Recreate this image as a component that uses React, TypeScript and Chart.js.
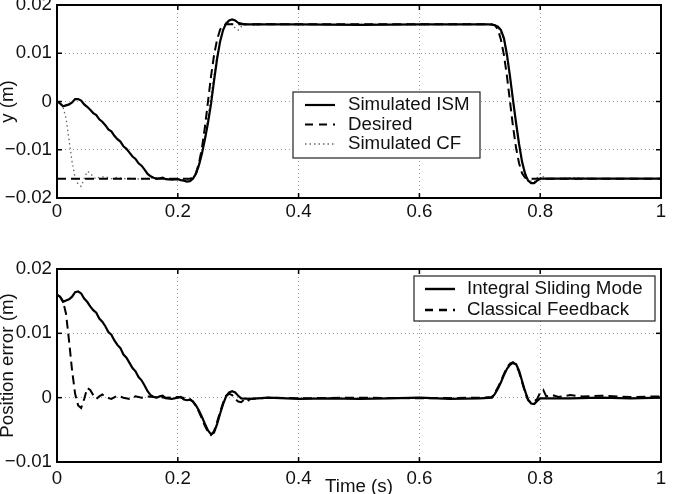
import React, { useEffect, useRef } from "react";
import { Chart, registerables } from "chart.js";
Chart.register(...registerables);

const FONT = "'Liberation Sans', Arial, Helvetica, sans-serif";
const FS = 18.7;

// ---------- Top plot: y (m) ----------
const desiredT = [0, 0.22, 0.225, 0.23, 0.235, 0.24, 0.245, 0.25, 0.255, 0.26, 0.265, 0.27, 0.275, 0.28,
  0.72, 0.725, 0.73, 0.735, 0.74, 0.745, 0.75, 0.755, 0.76, 0.765, 0.77, 0.775, 0.78, 1];
const desiredY = [-0.016, -0.016, -0.0158, -0.0149, -0.0128, -0.0096, -0.0052, 0, 0.0052, 0.0096, 0.0128, 0.0149, 0.0158, 0.016,
  0.016, 0.0158, 0.0149, 0.0128, 0.0096, 0.0052, 0, -0.0052, -0.0096, -0.0128, -0.0149, -0.0158, -0.016, -0.016];

const ismTopT = [0, 0.005, 0.01, 0.015, 0.02, 0.025, 0.03, 0.035, 0.04, 0.045, 0.05, 0.055, 0.06, 0.065, 0.07, 0.075,
  0.08, 0.085, 0.09, 0.095, 0.1, 0.105, 0.11, 0.115, 0.12, 0.125, 0.13, 0.135, 0.14, 0.145, 0.15, 0.155, 0.16, 0.165,
  0.17, 0.175, 0.18, 0.19, 0.2, 0.205, 0.21, 0.215, 0.22, 0.225, 0.23, 0.235, 0.24, 0.245, 0.25, 0.255, 0.26, 0.265,
  0.27, 0.275, 0.28, 0.285, 0.29, 0.295, 0.3, 0.31, 0.4, 0.5, 0.6, 0.7, 0.715, 0.72, 0.725, 0.73, 0.735, 0.74, 0.745,
  0.75, 0.755, 0.76, 0.765, 0.77, 0.775, 0.78, 0.785, 0.79, 0.795, 0.8, 1];
const ismTopY = [0, -0.0004, -0.001, -0.0008, -0.0006, -0.0002, 0.0005, 0.0005, 0.0002, -0.0006, -0.0011, -0.0017, -0.0024,
  -0.0028, -0.0037, -0.0042, -0.0049, -0.0058, -0.0062, -0.0071, -0.0078, -0.0083, -0.0093, -0.0098, -0.0106, -0.0114,
  -0.0119, -0.0128, -0.0133, -0.0141, -0.015, -0.0155, -0.0158, -0.016, -0.0159, -0.0158, -0.0161, -0.0162, -0.0161,
  -0.0163, -0.0164, -0.0166, -0.0165, -0.016, -0.015, -0.0132, -0.0108, -0.0078, -0.0044, -0.0005, 0.0043, 0.0088,
  0.0124, 0.0148, 0.0162, 0.0168, 0.017, 0.0168, 0.0163, 0.016, 0.016, 0.0159, 0.016, 0.016, 0.016, 0.0159, 0.0158,
  0.0155, 0.0148, 0.0131, 0.0097, 0.0052, 0.0003, -0.0044, -0.0088, -0.0125, -0.015, -0.0164, -0.0169, -0.0169,
  -0.0164, -0.016, -0.016];

const cfTopT = [0, 0.005, 0.01, 0.015, 0.02, 0.025, 0.03, 0.035, 0.04, 0.045, 0.05, 0.055, 0.06, 0.065, 0.07, 0.08,
  0.09, 0.1, 0.11, 0.12, 0.14, 0.16, 0.18, 0.2, 0.22, 0.225, 0.23, 0.235, 0.24, 0.245, 0.25, 0.255, 0.26, 0.265, 0.27,
  0.275, 0.28, 0.285, 0.29, 0.295, 0.3, 0.305, 0.31, 0.33, 0.35, 0.4, 0.5, 0.6, 0.7, 0.72, 0.73, 0.74, 0.75, 0.76,
  0.77, 0.78, 0.79, 0.795, 0.8, 0.805, 0.81, 0.85, 0.9, 1];
const cfTopY = [0, -0.0003, -0.0012, -0.0035, -0.008, -0.0125, -0.0158, -0.0172, -0.0176, -0.016, -0.0145, -0.0148,
  -0.0156, -0.0161, -0.0157, -0.0156, -0.016, -0.0157, -0.016, -0.0159, -0.0161, -0.0158, -0.016, -0.0161, -0.0162,
  -0.016, -0.0152, -0.0134, -0.0106, -0.007, -0.003, 0.0012, 0.0055, 0.0094, 0.0126, 0.0148, 0.016, 0.0164, 0.016,
  0.0152, 0.0148, 0.0155, 0.0161, 0.0158, 0.0161, 0.0159, 0.016, 0.0159, 0.016, 0.016, 0.0155, 0.0128, 0.005,
  -0.0046, -0.0128, -0.0163, -0.0167, -0.0158, -0.015, -0.0156, -0.0161, -0.0158, -0.016, -0.016];

// ---------- Bottom plot: position error (m) ----------
const ismErrT = [0, 0.005, 0.01, 0.015, 0.02, 0.025, 0.03, 0.035, 0.04, 0.045, 0.05, 0.055, 0.06, 0.065, 0.07, 0.075,
  0.08, 0.085, 0.09, 0.095, 0.1, 0.105, 0.11, 0.115, 0.12, 0.125, 0.13, 0.135, 0.14, 0.145, 0.15, 0.155, 0.16, 0.165,
  0.17, 0.175, 0.18, 0.19, 0.2, 0.205, 0.21, 0.215, 0.22, 0.225, 0.23, 0.235, 0.24, 0.245, 0.25, 0.255, 0.26, 0.265,
  0.27, 0.275, 0.28, 0.285, 0.29, 0.295, 0.3, 0.305, 0.32, 0.35, 0.4, 0.45, 0.5, 0.55, 0.6, 0.65, 0.7, 0.72, 0.725,
  0.73, 0.735, 0.74, 0.745, 0.75, 0.755, 0.76, 0.765, 0.77, 0.775, 0.78, 0.785, 0.79, 0.795, 0.8, 0.85, 0.9, 0.95, 1];
const ismErrY = [0.016, 0.0157, 0.0149, 0.0151, 0.0153, 0.0157, 0.0164, 0.0165, 0.0162, 0.0154, 0.0149, 0.0142, 0.0136,
  0.0132, 0.0123, 0.0118, 0.0111, 0.0102, 0.0098, 0.0089, 0.0082, 0.0077, 0.0067, 0.0062, 0.0054, 0.0046, 0.0041,
  0.0032, 0.0027, 0.0019, 0.001, 0.0004, 0.0001, 0, 0.0002, 0.0003, -0.0001, -0.0002, 0, 0.0001, -0.0003, -0.0004,
  -0.0003, -0.0006, -0.0012, -0.002, -0.003, -0.0041, -0.0051, -0.0057, -0.0054, -0.0041, -0.0025, -0.001, 0.0002,
  0.0008, 0.001, 0.0008, 0.0003, -0.0001, -0.0002, 0, -0.0002, -0.0001, -0.0002, -0.0001, 0, -0.0002, -0.0001, 0,
  0.0006, 0.0014, 0.0024, 0.0035, 0.0045, 0.0051, 0.0054, 0.0052, 0.0042, 0.0026, 0.001, -0.0003, -0.0009, -0.001,
  -0.0005, -0.0001, -0.0001, 0, -0.0001, 0];

const cfErrT = [0, 0.005, 0.01, 0.015, 0.02, 0.025, 0.03, 0.035, 0.04, 0.045, 0.05, 0.055, 0.06, 0.065, 0.07, 0.075,
  0.08, 0.09, 0.1, 0.11, 0.12, 0.13, 0.14, 0.15, 0.16, 0.18, 0.2, 0.22, 0.225, 0.23, 0.235, 0.24, 0.245, 0.25, 0.255,
  0.26, 0.265, 0.27, 0.275, 0.28, 0.285, 0.29, 0.295, 0.3, 0.305, 0.31, 0.315, 0.32, 0.35, 0.4, 0.5, 0.6, 0.7, 0.72,
  0.725, 0.73, 0.735, 0.74, 0.745, 0.75, 0.755, 0.76, 0.765, 0.77, 0.775, 0.78, 0.785, 0.79, 0.795, 0.8, 0.805, 0.81,
  0.82, 0.83, 0.85, 0.87, 0.9, 0.95, 1];
const cfErrY = [0.016, 0.0157, 0.015, 0.013, 0.0088, 0.0042, 0.0006, -0.0012, -0.0016, -0.0002, 0.0015, 0.0012, 0.0004,
  -0.0002, 0.0002, 0.0005, 0.0001, -0.0002, 0.0003, 0, -0.0002, 0.0002, 0, 0.0002, 0.0001, 0, 0.0001, -0.0002, -0.0006,
  -0.0013, -0.0022, -0.0033, -0.0044, -0.0053, -0.0058, -0.0052, -0.0038, -0.0022, -0.0008, 0.0003, 0.0006, 0.0004,
  -0.0002, -0.0006, -0.0007, -0.0003, -0.0006, -0.0002, 0, -0.0001, 0, -0.0001, 0, 0.0001, 0.0008, 0.0016, 0.0026,
  0.0037, 0.0047, 0.0053, 0.0055, 0.005, 0.004, 0.0024, 0.0008, -0.0004, -0.0008, -0.0006, -0.0002, 0.0008, 0.0012,
  0.0002, 0.0004, 0.0001, 0.0004, 0.0002, 0.0003, 0.0001, 0.0002];

// ---------- axis ticks ----------
const xTickStep = 0.2;
const topYRange = [-0.02, 0.02];
const botYRange = [-0.01, 0.02];
const yTickStep = 0.01;

const pts = (t: number[], y: number[]) => t.map((x, i) => ({ x, y: y[i] }));

const fmtY = (v: number) => {
  const r = Math.round(v * 1000) / 1000;
  if (r === 0) return "0";
  return (r < 0 ? "\u2212" : "") + Math.abs(r).toString();
};
const fmtX = (v: number) => (Math.round(v * 10) / 10).toString();

const framePlugin = {
  id: "frame",
  afterDatasetsDraw(chart: any) {
    const { ctx, chartArea: a, scales } = chart;
    ctx.save();
    ctx.setLineDash([]);
    ctx.strokeStyle = "#000";
    ctx.lineWidth = 1.5;
    const tl = 5;
    const line = (x0: number, y0: number, x1: number, y1: number) => {
      ctx.beginPath();
      ctx.moveTo(x0, y0);
      ctx.lineTo(x1, y1);
      ctx.stroke();
    };
    scales.x.ticks.forEach((t: any) => {
      const px = scales.x.getPixelForValue(t.value);
      line(px, a.bottom, px, a.bottom - tl);
      line(px, a.top, px, a.top + tl);
    });
    scales.y.ticks.forEach((t: any) => {
      const py = scales.y.getPixelForValue(t.value);
      line(a.left, py, a.left + tl, py);
      line(a.right, py, a.right - tl, py);
    });
    ctx.lineWidth = 2;
    ctx.strokeRect(a.left, a.top, a.right - a.left, a.bottom - a.top);
    ctx.restore();
  },
};

type LegItem = { label: string; dash: number[]; color: string; width: number };
const makeLegend = (box: { x: number; y: number; w: number; h: number }, rows: number[], lx0: number, lx1: number, tx: number, items: LegItem[]) => ({
  id: "boxLegend",
  afterDraw(chart: any) {
    const ctx = chart.ctx;
    ctx.save();
    ctx.fillStyle = "#fff";
    ctx.fillRect(box.x, box.y, box.w, box.h);
    ctx.strokeStyle = "#222";
    ctx.lineWidth = 1.2;
    ctx.setLineDash([]);
    ctx.strokeRect(box.x, box.y, box.w, box.h);
    items.forEach((it, i) => {
      const cy = rows[i];
      ctx.beginPath();
      ctx.setLineDash(it.dash);
      ctx.strokeStyle = it.color;
      ctx.lineWidth = it.width;
      ctx.moveTo(lx0, cy);
      ctx.lineTo(lx1, cy);
      ctx.stroke();
      ctx.setLineDash([]);
      ctx.fillStyle = "#111";
      ctx.font = `${FS}px ${FONT}`;
      ctx.textBaseline = "middle";
      ctx.textAlign = "left";
      ctx.fillText(it.label, tx, cy);
    });
    ctx.restore();
  },
});

const makeScales = (yr: number[], yTitle: string, xTitle: string | null, xPad: number, xH: number, yTitlePad: number, xTitlePad: number) => ({
  x: {
    type: "linear",
    min: 0,
    max: 1,
    ticks: { stepSize: xTickStep, callback: (v: any) => fmtX(Number(v)), color: "#111", font: { family: FONT, size: FS }, padding: xPad, maxRotation: 0, autoSkip: false },
    grid: { color: "#9a9a9a", lineWidth: 1, drawTicks: false },
    border: { display: false, dash: [1, 3] },
    title: xTitle
      ? { display: true, text: xTitle, color: "#111", font: { family: FONT, size: FS }, padding: { top: 0, bottom: xTitlePad } }
      : { display: false },
    afterFit: (s: any) => {
      s.height = xH;
      s.paddingLeft = 0;
      s.paddingRight = 0;
    },
  },
  y: {
    type: "linear",
    min: yr[0],
    max: yr[1],
    ticks: { stepSize: yTickStep, callback: (v: any) => fmtY(Number(v)), color: "#111", font: { family: FONT, size: FS }, padding: 5 },
    grid: { color: "#9a9a9a", lineWidth: 1, drawTicks: false },
    border: { display: false, dash: [1, 3] },
    title: { display: true, text: yTitle, color: "#111", font: { family: FONT, size: FS }, padding: { top: yTitlePad, bottom: 0 } },
    afterFit: (s: any) => {
      s.width = 57;
      s.paddingTop = 0;
      s.paddingBottom = 0;
    },
  },
});

const baseOpts = {
  responsive: false,
  animation: false,
  events: [],
  elements: { point: { radius: 0 }, line: { tension: 0 } },
};

export default function App() {
  const topRef = useRef<HTMLCanvasElement>(null);
  const botRef = useRef<HTMLCanvasElement>(null);

  useEffect(() => {
    const c1 = new Chart(topRef.current as HTMLCanvasElement, {
      type: "line",
      data: {
        datasets: [
          { label: "Simulated ISM", data: pts(ismTopT, ismTopY), borderColor: "#000", borderWidth: 2.2, fill: false },
          { label: "Desired", data: pts(desiredT, desiredY), borderColor: "#000", borderWidth: 2, borderDash: [9, 5], fill: false },
          { label: "Simulated CF", data: pts(cfTopT, cfTopY), borderColor: "#666", borderWidth: 1.3, borderDash: [1.5, 3], fill: false },
        ],
      },
      options: {
        ...baseOpts,
        layout: { padding: { left: 0, right: 14, top: 5, bottom: 0 } },
        plugins: { legend: { display: false }, tooltip: { enabled: false } },
        scales: makeScales(topYRange, "y (m)", null, 3, 32, -3, 0) as any,
      } as any,
      plugins: [
        framePlugin,
        makeLegend({ x: 293, y: 92, w: 187, h: 66 }, [105, 124.5, 144], 305, 335, 348, [
          { label: "Simulated ISM", dash: [], color: "#000", width: 2.2 },
          { label: "Desired", dash: [8, 6], color: "#000", width: 2.2 },
          { label: "Simulated CF", dash: [1.5, 3], color: "#666", width: 1.3 },
        ]),
      ] as any,
    });

    const c2 = new Chart(botRef.current as HTMLCanvasElement, {
      type: "line",
      data: {
        datasets: [
          { label: "Integral Sliding Mode", data: pts(ismErrT, ismErrY), borderColor: "#000", borderWidth: 2.2, fill: false },
          { label: "Classical Feedback", data: pts(cfErrT, cfErrY), borderColor: "#000", borderWidth: 2, borderDash: [9, 5], fill: false },
        ],
      },
      options: {
        ...baseOpts,
        layout: { padding: { left: 0, right: 14, top: 39, bottom: 0 } },
        plugins: { legend: { display: false }, tooltip: { enabled: false } },
        scales: makeScales(botYRange, "Position error (m)", "Time (s)", 6, 48, -3, 12) as any,
      } as any,
      plugins: [
        framePlugin,
        makeLegend({ x: 414, y: 46, w: 241, h: 45 }, [59, 80], 425, 455, 467, [
          { label: "Integral Sliding Mode", dash: [], color: "#000", width: 2.4 },
          { label: "Classical Feedback", dash: [8, 6], color: "#000", width: 2.4 },
        ]),
      ] as any,
    });

    return () => {
      c1.destroy();
      c2.destroy();
    };
  }, []);

  return (
    <div style={{ position: "absolute", left: 0, top: 0, width: 675, height: 494, overflow: "hidden", background: "#fff" }}>
      <canvas ref={topRef} width={675} height={230} style={{ position: "absolute", left: 0, top: 0 }} />
      <canvas ref={botRef} width={675} height={280} style={{ position: "absolute", left: 0, top: 230 }} />
    </div>
  );
}
